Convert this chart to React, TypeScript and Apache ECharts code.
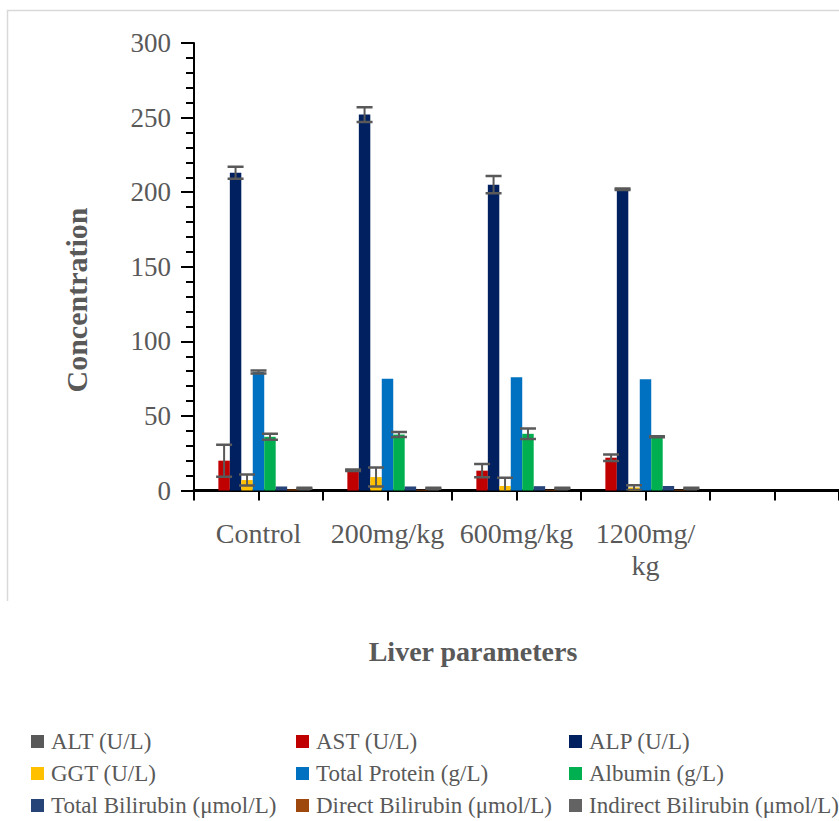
import React, { useEffect, useRef } from "react";
import * as echarts from "echarts";

const categories = ["Control", "200mg/kg", "600mg/kg", "1200mg/\nkg"];
const seriesNames = [
  "ALT (U/L)",
  "AST (U/L)",
  "ALP (U/L)",
  "GGT (U/L)",
  "Total Protein (g/L)",
  "Albumin (g/L)",
  "Total Bilirubin (μmol/L)",
  "Direct Bilirubin (μmol/L)",
  "Indirect Bilirubin (μmol/L)",
];
const seriesColors = ["#595959", "#C00000", "#002060", "#FFC000", "#0070C0", "#00B050", "#264478", "#9E480E", "#636363"];

const altMean = [0, 0, 0, 0];
const altErr = [0, 0, 0, 0];
const astMean = [20, 13.5, 13.3, 22];
const astErr = [10.7, 0.5, 4.4, 2.2];
const alpMean = [213, 252, 205, 202];
const alpErr = [4, 5, 5.8, 0.5];
const ggtMean = [7, 9, 3, 2];
const ggtErr = [3.7, 6.4, 5.6, 1.6];
const tpMean = [79.5, 75, 76, 74.5];
const tpErr = [1, 0, 0, 0];
const albMean = [36, 37.5, 38, 36];
const albErr = [2, 1.7, 3.5, 0.3];
const tbMean = [2.7, 2.7, 2.9, 3];
const tbErr = [0, 0, 0, 0];
const dbMean = [0.7, 0.5, 0.5, 0.5];
const dbErr = [0, 0, 0, 0];
const ibMean = [1.5, 1.5, 1.5, 1.5];
const ibErr = [0.3, 0.3, 0.3, 0.3];

const yTicks = [0, 50, 100, 150, 200, 250, 300];

const means = [altMean, astMean, alpMean, ggtMean, tpMean, albMean, tbMean, dbMean, ibMean];
const errs = [altErr, astErr, alpErr, ggtErr, tpErr, albErr, tbErr, dbErr, ibErr];

const FONT = "Liberation Serif, Times New Roman, serif";
const TEXT = "#595959";

export default function App() {
  const ref = useRef<HTMLDivElement>(null);
  useEffect(() => {
    if (!ref.current) return;
    const chart = echarts.init(ref.current, null, { renderer: "svg" });
    const axisCats = [...categories, ""];
    const nBars = seriesNames.length;

    const barSeries = seriesNames.map((name, i) => ({
      name,
      type: "bar",
      xAxisIndex: 0,
      data: means[i],
      barGap: "0%",
      barCategoryGap: "20%",
      itemStyle: { color: seriesColors[i] },
    }));

    const errSeries = seriesNames.map((name, i) => ({
      name: name + " error",
      type: "custom",
      xAxisIndex: 0,
      clip: true,
      encode: { x: 0, y: 1 },
      data: means[i].map((m, k) => [k, m, errs[i][k]]),
      renderItem: (params: any, api: any) => {
        const k = api.value(0);
        const m = api.value(1);
        const e = api.value(2);
        if (!e) return { type: "group", children: [] };
        const cw = api.size([1, 0])[0];
        const bw = (cw * 0.8) / nBars;
        const c = api.coord([k, m]);
        const x = c[0] - cw * 0.4 + (i + 0.5) * bw;
        const yT = api.coord([k, m + e])[1];
        const yB = api.coord([k, m - e])[1];
        const st = { stroke: "#595959", lineWidth: 2.5 };
        return {
          type: "group",
          children: [
            { type: "line", shape: { x1: x, y1: yT, x2: x, y2: yB }, style: { stroke: "#595959", lineWidth: 2 } },
            { type: "line", shape: { x1: x - 8, y1: yT, x2: x + 8, y2: yT }, style: st },
            { type: "line", shape: { x1: x - 8, y1: yB, x2: x + 8, y2: yB }, style: st },
          ],
        };
      },
      z: 5,
    }));

    const legendBase = {
      orient: "vertical",
      top: 730,
      padding: 0,
      itemGap: 9,
      itemWidth: 13,
      itemHeight: 13,
      icon: "rect",
      textStyle: {
        fontSize: 23,
        color: TEXT,
        fontFamily: FONT,
        lineHeight: 22,
        padding: [0, 0, 0, 2],
      },
    };

    chart.setOption({
      animation: false,
      textStyle: { fontFamily: FONT },
      grid: { left: 194, top: 43, width: 652.5, height: 447.5, containLabel: false },
      legend: [
        { ...legendBase, left: 31, data: [seriesNames[0], seriesNames[3], seriesNames[6]] },
        { ...legendBase, left: 296, data: [seriesNames[1], seriesNames[4], seriesNames[7]] },
        { ...legendBase, left: 569, data: [seriesNames[2], seriesNames[5], seriesNames[8]] },
      ],
      xAxis: [
        {
          type: "category",
          data: axisCats,
          position: "bottom",
          axisLine: { show: true, lineStyle: { color: "#000", width: 3 } },
          axisTick: { show: false },
          axisLabel: {
            interval: 0,
            fontSize: 28,
            fontFamily: FONT,
            color: TEXT,
            margin: 27,
            lineHeight: 32,
          },
          splitLine: { show: false },
        },
        {
          type: "category",
          data: ["", "", "", "", "", "", "", "", "", ""],
          position: "bottom",
          axisLine: { show: false },
          axisTick: { show: true, interval: 0, length: 10, lineStyle: { color: "#000", width: 2 } },
          axisLabel: { show: false },
          splitLine: { show: false },
        },
      ],
      yAxis: {
        type: "value",
        min: yTicks[0],
        max: yTicks[yTicks.length - 1],
        interval: 50,
        axisLine: { show: true, lineStyle: { color: "#000", width: 2 } },
        axisTick: { show: true, length: 13, lineStyle: { color: "#000", width: 2 } },
        minorTick: { show: true, splitNumber: 5, length: 8, lineStyle: { color: "#000", width: 2 } },
        splitLine: { show: false },
        axisLabel: { fontSize: 27, fontFamily: FONT, color: TEXT, margin: 23 },
      },
      graphic: [
        {
          type: "polyline",
          shape: { points: [[7.5, 601], [7.5, 10.5], [839, 10.5]] },
          style: { stroke: "#d9d9d9", lineWidth: 1.5, fill: "none" },
          silent: true,
        },
        {
          type: "text",
          x: 76,
          y: 300,
          rotation: Math.PI / 2,
          style: {
            text: "Concentration",
            fontSize: 30,
            fontWeight: "bold",
            fontFamily: FONT,
            fill: TEXT,
            align: "center",
            verticalAlign: "middle",
          },
        },
        {
          type: "text",
          x: 473,
          y: 651,
          style: {
            text: "Liver parameters",
            fontSize: 28,
            fontWeight: "bold",
            fontFamily: FONT,
            fill: TEXT,
            align: "center",
            verticalAlign: "middle",
          },
        },
      ],
      series: [...barSeries, ...errSeries],
    });
    return () => chart.dispose();
  }, []);
  return (
    <div
      ref={ref}
      style={{ position: "absolute", left: 0, top: 0, width: 839, height: 821, background: "#fff" }}
    />
  );
}
